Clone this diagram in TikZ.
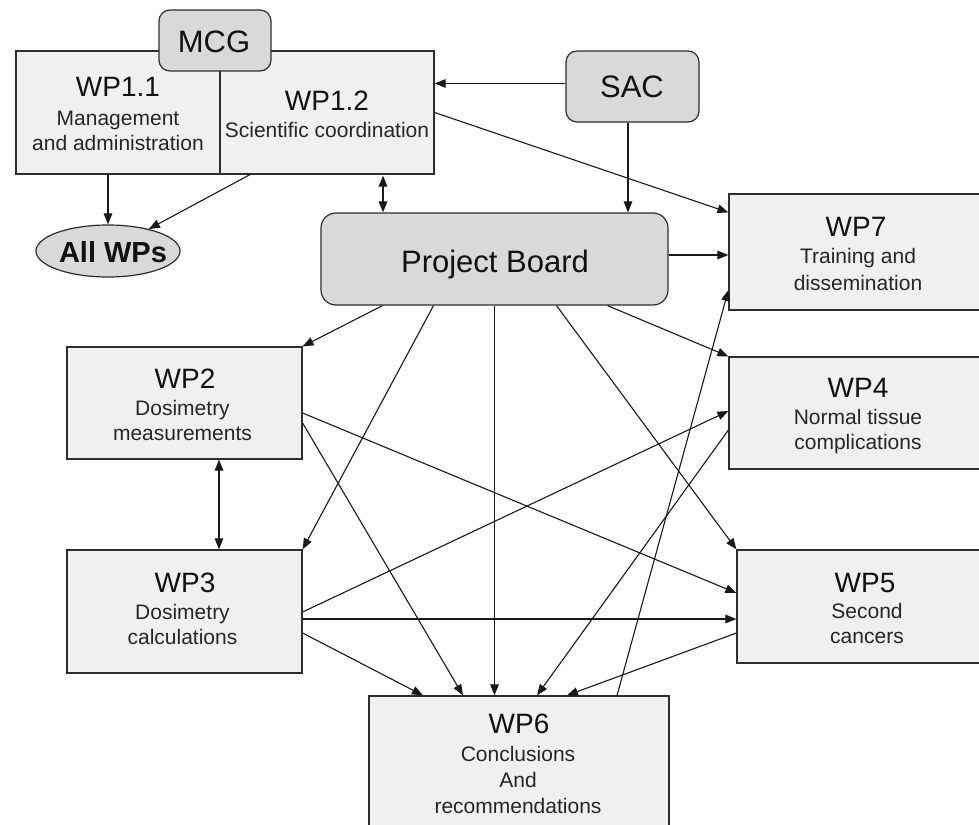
\documentclass[tikz,border=0pt]{standalone}
\usepackage{fontspec}
\setmainfont{Liberation Sans}
\usetikzlibrary{arrows.meta,shapes.geometric,calc}
\definecolor{boxfill}{HTML}{F0F0F0}
\definecolor{darkfill}{HTML}{D9D9D9}
\definecolor{edge}{HTML}{2E2E2E}
\definecolor{txt}{HTML}{111111}
\definecolor{subtxt}{HTML}{262626}
\tikzset{
  wpbox/.style={draw=edge, fill=boxfill, line width=1.2pt, rectangle, inner sep=0pt},
  graybox/.style={draw=edge, fill=darkfill, line width=1.2pt, rectangle, rounded corners=11pt, inner sep=0pt},
  titletext/.style={anchor=base, inner sep=0pt, text=txt, font=\fontsize{28}{28}\selectfont},
  subtext/.style={anchor=base, inner sep=0pt, text=subtxt, font=\fontsize{21}{21}\selectfont},
  bigtext/.style={anchor=base, inner sep=0pt, text=txt, font=\fontsize{31}{31}\selectfont},
  conn/.style={draw=black!90, line width=1.1pt, -{Triangle[length=11pt,width=8.5pt]}},
  dconn/.style={draw=black!90, line width=1.1pt, {Triangle[length=11pt,width=8.5pt]}-{Triangle[length=11pt,width=8.5pt]}}
}
\begin{document}
\begin{tikzpicture}[x=1pt,y=-1pt]
\useasboundingbox (0,0) rectangle (979,824);
\clip (0,0) rectangle (979,824);
\fill[white] (0,0) rectangle (979,824);

% boxes
\node[wpbox, minimum width=204pt, minimum height=123pt] (wp11) at (118,112.5) {};
\node[wpbox, minimum width=214pt, minimum height=123pt] (wp12) at (327,112.5) {};
\node[graybox, minimum width=112pt, minimum height=61pt] (mcg) at (215,40.5) {};
\node[graybox, minimum width=133pt, minimum height=71pt] (sac) at (632.5,86.5) {};
\node[graybox, rounded corners=15pt, minimum width=347pt, minimum height=92pt] (pb) at (494.5,259) {};
\node[wpbox, minimum width=261pt, minimum height=116pt] (wp7) at (859.5,252) {};
\node[wpbox, minimum width=261pt, minimum height=112pt] (wp4) at (859.5,413) {};
\node[wpbox, minimum width=253pt, minimum height=113pt] (wp5) at (863.5,606.5) {};
\node[wpbox, minimum width=235pt, minimum height=112pt] (wp2) at (184.5,403) {};
\node[wpbox, minimum width=235pt, minimum height=123pt] (wp3) at (184.5,611.5) {};
\node[wpbox, minimum width=300pt, minimum height=139pt] (wp6) at (519,765.5) {};
\node[draw=edge, fill=darkfill, line width=1.2pt, ellipse, minimum width=144pt, minimum height=52pt, inner sep=0pt] (allwps) at (108,251) {};

% texts
\node[titletext] (t11) at (118,97) {WP1.1};
\node[subtext] (s11a) at (118,125) {Management};
\node[subtext] (s11b) at (118,150) {and administration};
\node[titletext] (t12) at (327,111) {WP1.2};
\node[subtext] (s12a) at (327,137) {Scientific coordination};
\node[bigtext] (tmcg) at (214,53) {MCG};
\node[bigtext] (tsac) at (632,98) {SAC};
\node[bigtext] (tpb) at (495,272) {Project Board};
\node[anchor=base, inner sep=0pt, text=txt, font=\bfseries\fontsize{29}{29}\selectfont] (tall) at (113,262) {All WPs};
\node[titletext] (t7) at (856,236) {WP7};
\node[subtext] (s7a) at (858,263) {Training and};
\node[subtext] (s7b) at (858,290) {dissemination};
\node[titletext] (t4) at (858,397) {WP4};
\node[subtext] (s4a) at (858,424) {Normal tissue};
\node[subtext] (s4b) at (858,449) {complications};
\node[titletext] (t5) at (865,592) {WP5};
\node[subtext] (s5a) at (867,618) {Second};
\node[subtext] (s5b) at (867,643) {cancers};
\node[titletext] (t2) at (185,388) {WP2};
\node[subtext] (s2a) at (182.5,415) {Dosimetry};
\node[subtext] (s2b) at (182.5,440) {measurements};
\node[titletext] (t3) at (185,592) {WP3};
\node[subtext] (s3a) at (182.5,619) {Dosimetry};
\node[subtext] (s3b) at (182.5,644) {calculations};
\node[titletext] (t6) at (519,733) {WP6};
\node[subtext] (s6a) at (518,761) {Conclusions};
\node[subtext] (s6b) at (518,787) {And};
\node[subtext] (s6c) at (518,813) {recommendations};

% connectors
\draw[conn] ([xshift=-10pt]wp11.south) -- (allwps.north);
\draw[conn] ([xshift=-77pt]wp12.south) -- (allwps);
\draw[conn] ([yshift=3pt]sac.west) -- ([yshift=3pt]sac.west -| wp12.east);
\draw[conn] (wp12.east) -- ([yshift=-19pt]wp7.north west);
\draw[conn] ([xshift=-4.5pt]sac.south) -- ([xshift=-4.5pt]sac.south |- pb.north);
\draw[dconn] ([xshift=56pt,yshift=-1pt]wp12.south) -- ([xshift=56pt]wp12.south |- pb.north);
\draw[conn] ([yshift=4pt]pb.east) -- ([yshift=4pt]pb.east -| wp7.west);
\draw[conn] ([xshift=-112pt]pb.south) -- (wp2.north east);
\draw[conn] ([xshift=-61pt]pb.south) -- (wp3.north east);
\draw[conn] (pb.south) -- (pb.south |- wp6.north);
\draw[conn] ([xshift=62pt]pb.south) -- (wp5.north west);
\draw[conn] ([xshift=113pt]pb.south) -- (wp4.north west);
\draw[dconn] ([xshift=34.5pt]wp2.south) -- ([xshift=34.5pt]wp3.north);
\draw[conn] ([yshift=-10pt]wp2.east) -- ([yshift=13.5pt]wp5.west);
\draw[conn] ([yshift=-20pt]wp2.east) -- ([xshift=-56pt]wp6.north);
\draw[conn] ([yshift=-0.5pt]wp3.east) -- ([yshift=2pt]wp4.west);
\draw[conn] ([yshift=-7.5pt]wp3.east) -- ([yshift=-7.5pt]wp3.east -| wp5.west);
\draw[conn] ([yshift=-21.5pt]wp3.east) -- ([xshift=-96pt]wp6.north);
\draw[conn] ([yshift=-17pt]wp4.west) -- ([xshift=18pt]wp6.north);
\draw[conn] ([yshift=-26.5pt]wp5.west) -- ([xshift=48pt]wp6.north);
\draw[conn] ([xshift=98pt]wp6.north) -- ([yshift=-38pt]wp7.west);
\end{tikzpicture}
\end{document}
